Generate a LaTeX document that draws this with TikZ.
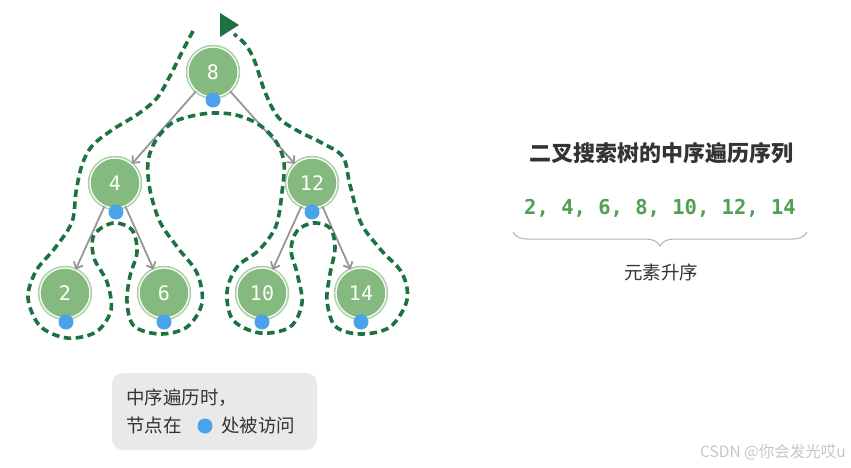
\documentclass[tikz,border=0pt]{standalone}
\usepackage{fontspec}
\usetikzlibrary{arrows.meta,decorations.pathreplacing}
\newfontfamily\cjk{Noto Sans CJK SC}
\newfontfamily\monof{DejaVu Sans Mono}
\definecolor{nodefill}{HTML}{84B97F}
\definecolor{nodering}{HTML}{ABD2A7}
\definecolor{pathgreen}{HTML}{1D7242}
\definecolor{dotblue}{HTML}{4AA3E8}
\definecolor{edgegrey}{HTML}{969696}
\definecolor{seqgreen}{HTML}{4FA052}
\definecolor{txtgrey}{HTML}{333333}
\definecolor{boxgrey}{HTML}{E9E9E9}
\definecolor{wmgrey}{HTML}{C6C6C6}
\definecolor{bracegrey}{HTML}{B5B5B5}
\begin{document}
\begin{tikzpicture}[x=1pt,y=-1pt,
  treenode/.style={circle, minimum size=50pt, inner sep=0pt, fill=nodefill, draw=white, line width=1.2pt,
    preaction={draw=nodering, line width=4.5pt}, text=white, font=\monof\fontsize{20}{20}\selectfont},
  visitdot/.style={circle, minimum size=15pt, inner sep=0pt, fill=dotblue},
  treeedge/.style={draw=edgegrey, line width=1.8pt, -{Straight Barb[length=5.5pt,width=10pt]}},
  contour/.style={draw=pathgreen, line width=3.6pt, dash pattern=on 7.5pt off 4.5pt},
  cjktext/.style={inner sep=0pt, text=txtgrey, font=\cjk\fontsize{18.5}{20}\selectfont},
]
\fill[white] (0,0) rectangle (851,468);
\useasboundingbox (0,0) rectangle (851,468);

% tree nodes
\node[treenode] (n8) at (213,72) {8};
\node[treenode] (n4) at (115,183) {4};
\node[treenode] (n12) at (312,183) {12};
\node[treenode] (n2) at (65,293) {2};
\node[treenode] (n6) at (164,293) {6};
\node[treenode] (n10) at (262,293) {10};
\node[treenode] (n14) at (361,293) {14};

% edges
\draw[treeedge] (n8) -- (n4);
\draw[treeedge] (n8) -- (n12);
\draw[treeedge] (n4) -- (n2);
\draw[treeedge] (n4) -- (n6);
\draw[treeedge] (n12) -- (n10);
\draw[treeedge] (n12) -- (n14);

% visit dots
\node[visitdot] (d8) at (213,100) {};
\node[visitdot] (d4) at (116,212) {};
\node[visitdot] (d12) at (312,212) {};
\node[visitdot] (d2) at (66,322) {};
\node[visitdot] (d6) at (164,322) {};
\node[visitdot] (d10) at (262,322) {};
\node[visitdot] (d14) at (361,322) {};

% traversal contour
\draw[contour] plot[smooth, tension=0.55] coordinates {
 (193,31) (182,52) (170,76) (157,98) (138,114) (112,130) (92,146) (82,165) (76,192) (72,222)
 (55,248) (36,271) (28,298) (40,326) (67,338) (96,332) (111,310) (107,282) (94,258) (94,235)
 (113,223) (132,230) (137,252) (130,276) (127,302) (134,326) (160,334) (187,327) (202,303)
 (197,273) (178,248) (160,222) (150,190) (148,162) (156,140) (172,123) (192,116) (213,113)
 (236,115) (258,124) (275,140) (284,162) (282,192) (276,226) (259,250) (237,267) (227,292)
 (233,320) (260,333) (290,327) (302,303) (297,273) (291,250) (297,231) (313,223) (330,228)
 (335,248) (330,274) (327,300) (335,326) (360,334) (390,327) (407,300) (402,273) (381,250)
 (361,223) (350,185) (343,157) (322,143) (298,131) (278,117) (265,92) (255,62) (246,45) (234,34)};
\fill[pathgreen] (220,13) -- (239,25) -- (220,37) -- cycle;

% right side
\node[inner sep=0pt, text=txtgrey, font=\cjk\bfseries\fontsize{22}{24}\selectfont] (title) at (661,153) {二叉搜索树的中序遍历序列};
\node[inner sep=0pt, text=seqgreen, font=\monof\bfseries\fontsize{20.5}{22}\selectfont] (seq) at (660,208) {2, 4, 6, 8, 10, 12, 14};
\coordinate (bl) at (513,232);
\coordinate (br) at (807,232);
\draw[bracegrey, line width=1pt, decorate, decoration={brace, mirror, amplitude=14pt}] (bl) -- (br);
\node[cjktext] (asc) at (661,272) {元素升序};

% legend
\node[fill=boxgrey, rounded corners=11pt, minimum width=205pt, minimum height=77pt, inner sep=0pt] (legend) at (214.5,411.5) {};
\node[cjktext, anchor=west] (l1) at (126,398) {中序遍历时，};
\node[cjktext, anchor=west] (l2a) at (126,425) {节点在};
\node[visitdot] (ldot) at (205,426) {};
\node[cjktext, anchor=west] (l2b) at (221,425) {处被访问};

% watermark
\node[inner sep=0pt, anchor=east, text=wmgrey, font=\cjk\fontsize{15.5}{17}\selectfont] (wm) at (846,452) {CSDN @你会发光哎u};
\end{tikzpicture}
\end{document}
